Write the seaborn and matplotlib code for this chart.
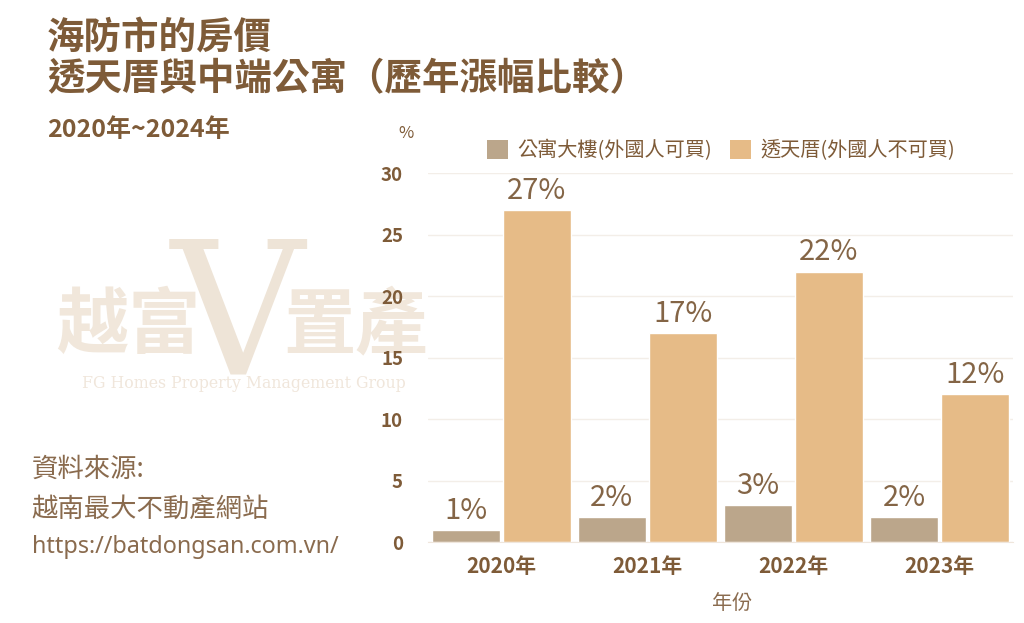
import pandas as pd
import seaborn as sns
import matplotlib.pyplot as plt
from matplotlib.patches import Patch

years = ["2020年", "2021年", "2022年", "2023年"]
apartment = [1, 2, 3, 2]
townhouse = [27, 17, 22, 12]
series_names = ["公寓大樓(外國人可買)", "透天厝(外國人不可買)"]
colors = ["#BBA68B", "#E6BB87"]

BROWN = "#7E5B38"
TEXT = "#8A6B4E"

df = pd.DataFrame({
    "year": years * 2,
    "value": apartment + townhouse,
    "series": [series_names[0]] * 4 + [series_names[1]] * 4,
})

sns.set_style("white")
plt.rcParams["font.family"] = ["Noto Sans CJK TC", "DejaVu Sans"]

fig = plt.figure(figsize=(10.24, 6.23), dpi=100)
ax = fig.add_axes([0.418, 0.130, 0.571, 0.592])
ax.patch.set_alpha(0)

sns.barplot(data=df, x="year", y="value", hue="series", palette=colors,
            width=0.97, gap=0.04, ax=ax, legend=False, saturation=1)

# value labels
for cont, vals in zip(ax.containers, [apartment, townhouse]):
    ax.bar_label(cont, labels=[f"{v}%" for v in vals], padding=3,
                 fontsize=21, color="#846546", fontweight="light")

ax.set_ylim(0, 30)
ax.set_xlim(-0.5, 3.5)
ax.set_yticks(range(0, 31, 5))
ax.yaxis.grid(True, color="#F3EEE8", linewidth=1)
ax.set_axisbelow(True)
for s in ["top", "right", "left"]:
    ax.spines[s].set_visible(False)
ax.spines["bottom"].set_color("#EFE6DC")
ax.tick_params(axis="y", length=0, pad=18, labelsize=13.5, labelcolor=BROWN)
ax.tick_params(axis="x", length=0, pad=10, labelsize=15, labelcolor=BROWN)
for lbl in ax.get_xticklabels() + ax.get_yticklabels():
    lbl.set_fontweight("bold")
ax.set_ylabel("")
ax.set_xlabel("年份", fontsize=14.5, color=TEXT, va="center")
ax.xaxis.set_label_coords(0.52, -0.167)

# legend
handles = [Patch(facecolor=c, edgecolor="none") for c in colors]
fig.legend(handles, series_names, loc="center left", bbox_to_anchor=(0.458, 0.758),
           ncol=2, frameon=False, fontsize=14.5, labelcolor=BROWN,
           handlelength=1.05, handleheight=1.05, columnspacing=0.9, handletextpad=0.45)

fig.text(0.389, 0.786, "%", fontsize=12, color=BROWN, ha="left", va="center")

# titles
fig.text(0.046, 0.940, "海防市的房價", fontsize=27, fontweight="bold", color=BROWN, va="center")
fig.text(0.046, 0.874, "透天厝與中端公寓（歷年漲幅比較）", fontsize=27, fontweight="bold",
         color=BROWN, va="center")
fig.text(0.046, 0.792, "2020年~2024年", fontsize=18, fontweight="bold", color=BROWN, va="center")

# watermark
wm = "#F1E7DB"
fig.text(0.055, 0.476, "越富", fontsize=52, fontweight="bold", color=wm, va="center", zorder=-1)
fig.text(0.232, 0.480, "V", fontsize=133, family="DejaVu Serif", color="#EEE4D7",
         ha="center", va="center", zorder=-1)
fig.text(0.277, 0.476, "置產", fontsize=52, fontweight="bold", color=wm, va="center", zorder=-1)
fig.text(0.08, 0.385, "FG Homes Property Management Group", fontsize=11.3,
         family="DejaVu Serif", color="#F0E6DB", va="center", zorder=-1)

# source
fig.text(0.031, 0.247, "資料來源:", fontsize=19, color=TEXT, va="center")
fig.text(0.031, 0.183, "越南最大不動產網站", fontsize=19, color=TEXT, va="center")
fig.text(0.031, 0.122, "https://batdongsan.com.vn/", fontsize=16.8, color=TEXT, va="center",
         family=["Noto Sans", "DejaVu Sans"])

fig.savefig("out.png", dpi=100, facecolor="white")
